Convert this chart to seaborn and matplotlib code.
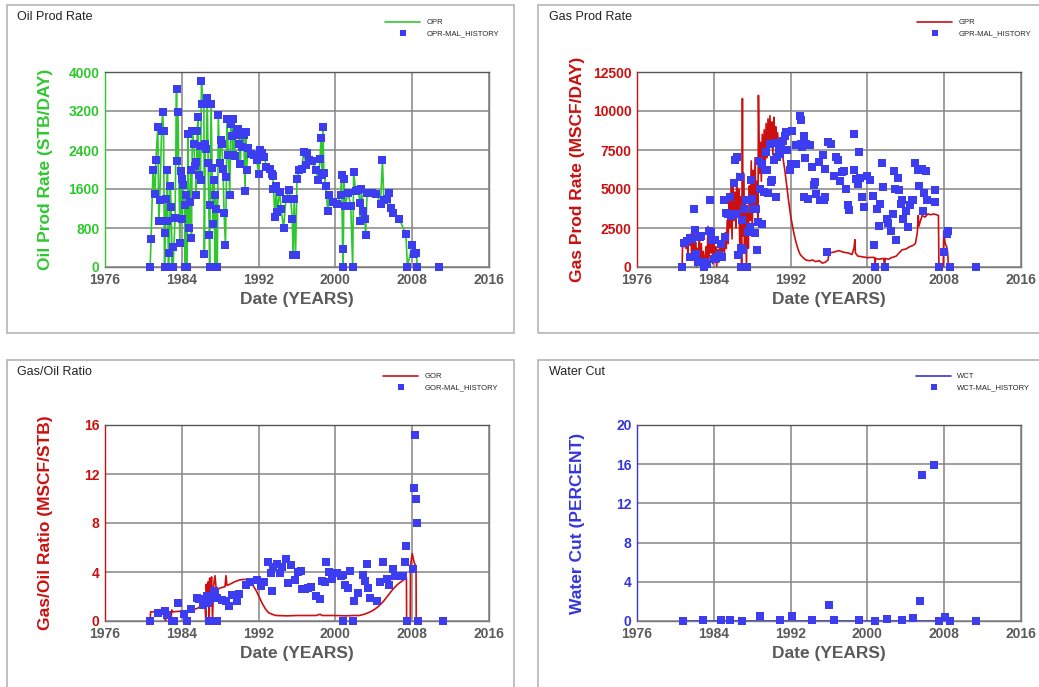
import matplotlib
matplotlib.use("Agg")
import matplotlib.pyplot as plt
from matplotlib.patches import Rectangle
from matplotlib.ticker import MultipleLocator
import seaborn as sns
import numpy as np

# ---------------- DATA ----------------
oil_year = [1980.7, 1980.8, 1981.0, 1981.2, 1981.3, 1981.5, 1981.6, 1981.7, 1981.9, 1982.0,
            1982.1, 1982.2, 1982.3, 1982.35, 1982.45, 1982.5, 1982.6, 1982.7, 1982.8, 1982.9,
            1983.0, 1983.05, 1983.1, 1983.3, 1983.45, 1983.5, 1983.6, 1983.8, 1983.9, 1984.0,
            1984.05, 1984.15, 1984.3, 1984.35, 1984.45, 1984.55, 1984.65, 1984.75, 1984.85, 1984.95,
            1985.0, 1985.1, 1985.25, 1985.35, 1985.45, 1985.5, 1985.6, 1985.7, 1985.75, 1985.85,
            1985.95, 1986.05, 1986.15, 1986.3, 1986.35, 1986.45, 1986.55, 1986.65, 1986.75, 1986.85,
            1986.9, 1986.95, 1987.05, 1987.15, 1987.25, 1987.35, 1987.45, 1987.5, 1987.6, 1987.7,
            1987.8, 1987.95, 1988.05, 1988.15, 1988.3, 1988.4, 1988.55, 1988.65, 1988.7, 1988.85,
            1989.0, 1989.1, 1989.15, 1989.25, 1989.3, 1989.35, 1989.5, 1989.6, 1989.75, 1989.9,
            1990.0, 1990.1, 1990.2, 1990.3, 1990.45, 1990.6, 1990.65, 1990.75, 1990.9, 1991.2,
            1991.5, 1991.8, 1992.0, 1992.1, 1992.35, 1992.6, 1992.8, 1993.15, 1993.35, 1993.5,
            1993.55, 1993.7, 1993.85, 1993.95, 1994.2, 1994.35, 1994.6, 1994.85, 1995.15, 1995.35,
            1995.5, 1995.6, 1995.7, 1995.85, 1996.0, 1996.2, 1996.5, 1996.7, 1996.95, 1997.05,
            1997.3, 1997.55, 1997.95, 1998.2, 1998.4, 1998.5, 1998.6, 1998.7, 1998.8, 1999.0,
            1999.2, 1999.35, 1999.8, 2000.2, 2000.55, 2000.65, 2000.75, 2000.8, 2000.9, 2001.0,
            2001.3, 2001.6, 2001.8, 2001.9, 2002.1, 2002.4, 2002.55, 2002.6, 2002.7, 2002.9,
            2003.05, 2003.15, 2003.3, 2003.8, 2004.25, 2004.7, 2004.9, 2005.05, 2005.35, 2005.6,
            2005.75, 2006.0, 2006.65, 2007.35, 2007.5, 2008.0, 2008.15, 2008.4, 2008.55, 2010.8]
oil_rate = [0, 580, 2000, 1490, 2190, 2870, 945, 1370, 2800, 3170,
            2800, 0, 700, 1400, 940, 1980, 0, 290, 1660, 1230,
            0, 410, 0, 1010, 3660, 2175, 3180, 500, 1960, 1810,
            980, 1680, 1265, 0, 1480, 0, 2720, 790, 1330, 2000,
            600, 2800, 2530, 2065, 2150, 1470, 2800, 3080, 1880, 2475,
            1780, 3820, 3350, 3340, 260, 2530, 2430, 3470, 2140, 660,
            0, 1280, 3340, 2040, 875, 1780, 0, 1470, 1180, 0,
            3110, 2140, 2600, 2520, 2020, 1115, 445, 1850, 3030, 2290,
            1470, 3030, 2940, 2690, 2300, 3030, 2280, 2715, 2790, 2840,
            2530, 2110, 2750, 2460, 2700, 1560, 2760, 2000, 2440, 2310,
            2290, 2200, 1915, 2395, 2330, 2260, 2050, 2020, 1915, 1870,
            1610, 1025, 1655, 1130, 1540, 1180, 800, 1390, 1575, 1400,
            990, 240, 1400, 240, 1800, 1985, 2020, 2350, 2090, 2345,
            2190, 2170, 2000, 1780, 2220, 2650, 1880, 2870, 1935, 1655,
            1140, 1470, 1330, 1285, 1485, 1880, 375, 0, 1810, 1260,
            1525, 1260, 0, 1950, 1560, 1585, 1310, 945, 1610, 1150,
            990, 660, 1520, 1520, 1505, 1300, 2190, 1380, 1390, 1520,
            1220, 1115, 990, 670, 0, 460, 275, 295, 0, 0]

gas_hist_year = [1980.73, 1980.90, 1981.21, 1981.49, 1981.49, 1981.73, 1981.84, 1981.94, 1982.08, 1982.18,
                 1982.36, 1982.53, 1982.71, 1982.88, 1982.98, 1983.12, 1983.30, 1983.47, 1983.57, 1983.68,
                 1983.85, 1984.03, 1984.10, 1984.27, 1984.51, 1984.72, 1984.90, 1985.03, 1985.17, 1985.31,
                 1985.49, 1985.66, 1985.83, 1986.11, 1986.18, 1986.35, 1986.46, 1986.53, 1986.70, 1986.81,
                 1986.88, 1986.98, 1987.05, 1987.15, 1987.29, 1987.40, 1987.50, 1987.57, 1987.67, 1987.74,
                 1987.92, 1987.99, 1988.09, 1988.27, 1988.37, 1988.51, 1988.61, 1988.72, 1988.86, 1989.00,
                 1989.06, 1989.20, 1989.31, 1989.48, 1989.55, 1989.69, 1989.83, 1990.00, 1990.11, 1990.25,
                 1990.35, 1990.52, 1990.59, 1990.80, 1990.87, 1991.05, 1991.22, 1991.39, 1991.57, 1991.67,
                 1991.91, 1992.02, 1992.19, 1992.37, 1992.54, 1992.61, 1992.82, 1992.96, 1993.06, 1993.13,
                 1993.23, 1993.37, 1993.41, 1993.48, 1993.65, 1993.82, 1994.00, 1994.24, 1994.42, 1994.59,
                 1994.69, 1994.97, 1995.11, 1995.39, 1995.46, 1995.56, 1995.63, 1995.74, 1995.91, 1996.26,
                 1996.50, 1996.71, 1996.95, 1997.13, 1997.37, 1997.54, 1997.75, 1997.93, 1998.10, 1998.62,
                 1998.62, 1998.79, 1998.97, 1999.11, 1999.21, 1999.45, 1999.66, 1999.97, 2000.25, 2000.60,
                 2000.70, 2000.81, 2001.02, 2001.19, 2001.36, 2001.54, 2001.64, 2001.85, 2001.99, 2002.16,
                 2002.48, 2002.62, 2002.79, 2002.86, 2003.03, 2003.21, 2003.31, 2003.45, 2003.62, 2003.73,
                 2004.01, 2004.21, 2004.42, 2004.60, 2004.77, 2004.98, 2005.29, 2005.40, 2005.64, 2005.74,
                 2005.92, 2006.06, 2006.23, 2007.03, 2007.06, 2007.48, 2007.97, 2008.24, 2008.42, 2008.59,
                 2011.27]
gas_hist_rate = [0, 1560, 1670, 1880, 640, 1820, 640, 3740, 2390, 855,
                 320, 1920, 1960, 320, 0, 320, 210, 2300, 4270, 2240,
                 1750, 530, 1710, 600, 750, 1500, 640, 4270, 1920, 3460,
                 3380, 4490, 3250, 5390, 6840, 3420, 7050, 750, 5770, 0,
                 1240, 3030, 1070, 3740, 0, 4320, 0, 2240, 4320, 2560,
                 5600, 4380, 3700, 2180, 3740, 1110, 2880, 6770, 5020, 2740,
                 6630, 4810, 6240, 7370, 6240, 4740, 7910, 5450, 5560, 6840,
                 7950, 4490, 7050, 7520, 7270, 7910, 8060, 8380, 8650, 7480,
                 6200, 6630, 8720, 6630, 6630, 7800, 7800, 9680, 9400, 7910,
                 7690, 4490, 8380, 7010, 7910, 4340, 7800, 6410, 5240, 5450,
                 4700, 6730, 4320, 7160, 4270, 6300, 4490, 960, 8010, 7910,
                 5810, 7050, 6840, 5490, 6090, 6150, 5020, 3950, 3630, 8550,
                 6200, 5660, 5300, 7370, 5730, 4490, 3850, 5810, 5560, 4530,
                 1430, 0, 3740, 2630, 4060, 6670, 5130, 0, 3100, 2820,
                 2290, 3420, 6150, 5020, 1710, 5730, 4920, 4060, 4270, 3100,
                 3590, 2560, 3950, 4270, 4270, 6670, 6240, 5170, 6300, 3590,
                 4740, 6130, 4320, 4960, 4170, 0, 960, 2140, 2300, 0,
                 0]

gas_sim_year = [1980.70, 1980.75, 1980.9, 1981.0, 1981.1, 1981.2, 1981.3, 1981.4, 1981.5, 1981.6,
                1981.7, 1981.8, 1981.9, 1982.0, 1982.05, 1982.1, 1982.2, 1982.3, 1982.4, 1982.5,
                1982.6, 1982.7, 1982.8, 1982.9, 1983.0, 1983.1, 1983.2, 1983.3, 1983.4, 1983.5,
                1983.6, 1983.7, 1983.8, 1983.9, 1984.0, 1984.1, 1984.2, 1984.3, 1984.4, 1984.5,
                1984.6, 1984.7, 1984.8, 1984.9, 1985.0, 1985.1, 1985.2, 1985.3, 1985.4, 1985.5,
                1985.6, 1985.7, 1985.8, 1985.9, 1986.0, 1986.1, 1986.2, 1986.3, 1986.4, 1986.5,
                1986.6, 1986.7, 1986.8, 1986.9, 1986.98, 1987.05, 1987.1, 1987.2, 1987.3, 1987.4,
                1987.5, 1987.6, 1987.7, 1987.8, 1987.9, 1988.0, 1988.1, 1988.2, 1988.3, 1988.4,
                1988.5, 1988.6, 1988.65, 1988.75, 1988.85, 1988.95, 1989.05, 1989.15, 1989.25, 1989.35,
                1989.45, 1989.55, 1989.65, 1989.75, 1989.85, 1989.95, 1990.05, 1990.15, 1990.25, 1990.35,
                1990.45, 1990.55, 1990.65, 1990.75, 1990.9, 1991.0, 1991.2, 1991.4, 1991.6, 1991.8,
                1992.0, 1992.2, 1992.4, 1992.6, 1992.8, 1993.0, 1993.3, 1993.6, 1994.0, 1994.3,
                1994.6, 1995.0, 1995.3, 1995.6, 1995.9, 1996.0, 1996.5, 1997.0, 1997.5, 1998.0,
                1998.4, 1998.6, 1998.7, 1998.75, 1999.0, 1999.5, 2000.0, 2000.5, 2000.75, 2000.8,
                2000.85, 2001.2, 2001.7, 2001.8, 2001.85, 2002.2, 2002.5, 2002.8, 2003.0, 2003.3,
                2003.6, 2004.0, 2004.4, 2004.8, 2005.0, 2005.2, 2005.3, 2005.35, 2005.5, 2005.7,
                2006.0, 2006.3, 2006.6, 2006.9, 2007.2, 2007.4, 2007.45, 2007.9, 2007.95, 2008.1,
                2008.25, 2008.35, 2008.45]
gas_sim_rate = [0, 1500, 1300, 1800, 1200, 1700, 900, 2000, 1400, 2100,
                600, 1900, 1000, 2200, 300, 1600, 0, 1200, 800, 1900,
                400, 1500, 200, 1000, 0, 700, 1300, 300, 2600, 500,
                2500, 900, 1800, 200, 1500, 600, 1300, 0, 1100, 300,
                1400, 900, 1700, 1000, 2000, 800, 2200, 1200, 3000, 1500,
                4200, 2500, 5200, 1800, 5500, 3000, 4800, 2500, 6000, 3200,
                5000, 1500, 4500, 0, 10800, 2000, 6000, 1000, 4200, 0,
                3500, 1200, 5200, 3000, 6800, 2000, 6200, 4000, 7000, 3500,
                5500, 2800, 11000, 6000, 8000, 5500, 8500, 6200, 8800, 6500,
                9200, 7000, 9500, 7500, 9700, 8000, 9300, 7200, 9600, 8200,
                9000, 7800, 8600, 7600, 8000, 7600, 7000, 6200, 5200, 4200,
                3300, 2600, 2000, 1500, 1100, 800, 600, 450, 400, 450,
                350, 400, 250, 300, 450, 900, 950, 1050, 950, 900,
                800, 1200, 1750, 900, 700, 650, 600, 620, 600, 0,
                550, 500, 550, 0, 550, 500, 600, 650, 700, 900,
                1100, 1150, 1300, 1400, 1500, 2200, 3300, 2600, 2900, 3300,
                3200, 3400, 3350, 3400, 3350, 3300, 0, 0, 2300, 1500,
                1300, 1000, 0]

gor_hist_year = [1980.69, 1981.56, 1982.25, 1982.42, 1982.94, 1983.22, 1983.64, 1984.26, 1984.58, 1984.96,
                 1985.55, 1985.83, 1986.24, 1986.42, 1986.59, 1986.76, 1986.87, 1986.94, 1987.11, 1987.22,
                 1987.35, 1987.46, 1987.63, 1987.70, 1988.15, 1988.60, 1988.95, 1989.26, 1989.78, 1989.96,
                 1990.69, 1991.10, 1991.87, 1992.25, 1992.60, 1993.01, 1993.26, 1993.36, 1993.47, 1993.88,
                 1994.23, 1994.40, 1994.86, 1995.10, 1995.34, 1995.79, 1996.14, 1996.42, 1996.49, 1996.83,
                 1997.18, 1997.42, 1997.94, 1998.40, 1998.57, 1998.92, 1999.02, 1999.33, 1999.61, 1999.89,
                 2000.20, 2000.55, 2000.76, 2000.83, 2001.00, 2001.35, 2001.52, 2001.80, 2001.97, 2002.39,
                 2002.84, 2003.08, 2003.26, 2003.43, 2003.60, 2004.30, 2004.65, 2004.92, 2005.41, 2005.62,
                 2005.97, 2006.21, 2007.08, 2007.25, 2007.35, 2007.49, 2008.12, 2008.22, 2008.29, 2008.40,
                 2008.47, 2008.57, 2011.17]
gor_hist_val = [0, 0.68, 0.84, 0.49, 0, 0, 1.44, 0.54, 0, 0.95,
                1.85, 1.80, 1.31, 1.71, 2.07, 1.44, 0, 1.80, 1.85, 0,
                2.45, 2.26, 0, 1.85, 1.71, 1.63, 1.22, 2.12, 1.66, 2.18,
                2.94, 3.16, 3.35, 2.88, 3.16, 4.79, 3.89, 2.45, 4.44, 4.68,
                3.89, 4.44, 5.03, 3.13, 4.57, 3.35, 3.97, 4.08, 2.61, 2.61,
                2.72, 2.80, 2.04, 1.77, 3.27, 3.21, 4.84, 4.03, 3.43, 3.95,
                3.89, 3.70, 0, 3.76, 2.94, 2.67, 4.11, 0, 1.66, 2.26,
                3.76, 3.29, 4.63, 2.67, 1.90, 1.66, 3.16, 4.79, 3.43, 2.94,
                4.22, 3.67, 3.67, 4.79, 6.12, 0, 4.22, 10.83, 15.18, 9.96,
                8.03, 0, 0]

gor_sim_year = [1980.7, 1980.75, 1981.5, 1982.2, 1982.3, 1982.35, 1982.8, 1982.9, 1982.95, 1983.0,
                1984.0, 1984.5, 1985.0, 1985.5, 1985.8, 1986.0, 1986.2, 1986.4, 1986.5, 1986.55,
                1986.65, 1986.75, 1986.85, 1986.9, 1987.0, 1987.1, 1987.2, 1987.3, 1987.45, 1987.6,
                1987.8, 1988.0, 1988.5, 1988.6, 1988.7, 1989.0, 1989.5, 1990.0, 1990.5, 1990.9,
                1991.2, 1991.5, 1991.8, 1992.1, 1992.4, 1992.7, 1993.0, 1993.4, 1993.8, 1995.0,
                1996.0, 1997.0, 1998.0, 1998.4, 1998.6, 1999.0, 2000.0, 2001.0, 2002.0, 2002.5,
                2003.0, 2003.5, 2004.0, 2004.5, 2005.0, 2005.5, 2006.0, 2006.5, 2007.0, 2007.4,
                2007.42, 2007.8, 2007.82, 2008.0, 2008.2, 2008.4, 2008.42]
gor_sim_val = [0, 0.75, 0.75, 0.75, 0.0, 0.75, 0.75, 0.3, 0.9, 0.75,
               0.8, 0.75, 0.9, 1.0, 1.1, 1.4, 1.2, 1.6, 0.0, 3.0,
               1.5, 3.2, 0.0, 3.5, 2.0, 3.6, 0.0, 2.8, 3.7, 2.5,
               2.6, 2.7, 2.8, 3.7, 2.9, 3.0, 3.2, 3.35, 3.4, 3.35,
               3.1, 2.8, 2.4, 1.9, 1.4, 1.0, 0.7, 0.55, 0.45, 0.42,
               0.45, 0.45, 0.45, 0.55, 0.45, 0.45, 0.45, 0.42, 0.45, 0.45,
               0.55, 0.7, 0.9, 1.2, 1.6, 2.1, 2.6, 3.0, 3.3, 3.5,
               0, 0, 4.5, 5.5, 4.8, 4.4, 0]

wct_hist_year = [1980.8, 1982.88, 1984.72, 1985.73, 1986.95, 1988.79, 1990.94, 1992.12, 1994.24, 1995.98,
                 1996.50, 1999.11, 2000.84, 2002.06, 2003.62, 2004.77, 2005.50, 2005.71, 2006.92, 2007.48,
                 2008.11, 2008.59, 2011.27]
wct_hist_val = [0, 0.1, 0.1, 0.1, 0, 0.5, 0.1, 0.5, 0.1, 1.6,
                0.1, 0.1, 0, 0.24, 0.1, 0.3, 2.0, 14.9, 15.9, 0,
                0.37, 0, 0]
wct_sim_year = [1980.7, 2008.6]
wct_sim_val = [0, 0]

year_ticks = [1976, 1984, 1992, 2000, 2008, 2016]

# ---------------- STYLE ----------------
sns.set_style("white")
plt.rcParams['font.family'] = ['Liberation Sans', 'DejaVu Sans']

W, H = 1039, 687
fig = plt.figure(figsize=(W / 100, H / 100), dpi=100)

GREEN = "#2ec82e"
RED = "#cc0f0f"
BLUE = "#3c3cf0"
DBLUE = "#3535e0"
TICKGRAY = "#5a5a5a"


def fx(px):
    return px / W


def fy(py):
    return 1 - py / H


# panel borders
for (x0, y0, x1, y1) in [(7, 5, 514, 333), (538, 5, 1045, 333),
                         (7, 360, 514, 692), (538, 360, 1045, 692)]:
    fig.add_artist(Rectangle((fx(x0), fy(y1)), fx(x1) - fx(x0), fy(y0) - fy(y1),
                             transform=fig.transFigure, fill=False,
                             edgecolor="#b4b4b4", lw=1.2))

panels = [
    dict(rect=(105, 72, 489, 267), title="Oil Prod Rate", tpos=(17, 17),
         ylabel="Oil Prod Rate (STB/DAY)", ycol=GREEN, lcol=GREEN,
         sx=oil_year[:-1], sy=oil_rate[:-1], hx=oil_year, hy=oil_rate,
         ymax=4000, ystep=800, leg=("OPR", "OPR-MAL_HISTORY"), lpos=(385, 19)),
    dict(rect=(637, 72, 1021, 267), title="Gas Prod Rate", tpos=(549, 17),
         ylabel="Gas Prod Rate (MSCF/DAY)", ycol=RED, lcol=RED,
         sx=gas_sim_year, sy=gas_sim_rate, hx=gas_hist_year, hy=gas_hist_rate,
         ymax=12500, ystep=2500, leg=("GPR", "GPR-MAL_HISTORY"), lpos=(917, 19)),
    dict(rect=(105, 425, 489, 621), title="Gas/Oil Ratio", tpos=(17, 372),
         ylabel="Gas/Oil Ratio (MSCF/STB)", ycol=RED, lcol=RED,
         sx=gor_sim_year, sy=gor_sim_val, hx=gor_hist_year, hy=gor_hist_val,
         ymax=16, ystep=4, leg=("GOR", "GOR-MAL_HISTORY"), lpos=(383, 373)),
    dict(rect=(637, 425, 1021, 621), title="Water Cut", tpos=(549, 372),
         ylabel="Water Cut (PERCENT)", ycol=DBLUE, lcol=DBLUE,
         sx=wct_sim_year, sy=wct_sim_val, hx=wct_hist_year, hy=wct_hist_val,
         ymax=20, ystep=4, leg=("WCT", "WCT-MAL_HISTORY"), lpos=(916, 373)),
]

for p in panels:
    x0, y0, x1, y1 = p["rect"]
    ax = fig.add_axes([fx(x0), fy(y1), fx(x1) - fx(x0), fy(y0) - fy(y1)])
    ax.set_facecolor("white")

    sns.lineplot(x=p["sx"], y=p["sy"], ax=ax, color=p["lcol"], lw=1.2,
                 sort=False, estimator=None, label=p["leg"][0], zorder=2)
    sns.scatterplot(x=p["hx"], y=p["hy"], ax=ax, marker="s", s=28, color=BLUE,
                    linewidth=0, label=p["leg"][1], clip_on=False, zorder=3)

    ax.set_xlim(1976, 2016)
    ax.set_ylim(0, p["ymax"])
    ax.set_xticks(year_ticks)
    ax.xaxis.set_minor_locator(MultipleLocator(4))
    ax.set_yticks(np.arange(0, p["ymax"] + 0.001, p["ystep"]))
    ax.yaxis.set_minor_locator(MultipleLocator(p["ystep"] / 2))
    ax.grid(True, which="major", color="#858585", lw=1.1, zorder=0)
    ax.set_axisbelow(True)
    ax.tick_params(which="major", length=0)
    ax.tick_params(axis="x", which="major", pad=4, labelsize=10, labelcolor=TICKGRAY)
    ax.tick_params(axis="y", which="major", pad=4, labelsize=10, labelcolor=p["ycol"])
    ax.tick_params(which="minor", direction="in", length=4, width=0.8, color="#777777")
    for lab in ax.get_xticklabels() + ax.get_yticklabels():
        lab.set_fontweight("bold")

    for side in ["top", "right", "bottom"]:
        ax.spines[side].set_color("#7a7a7a")
        ax.spines[side].set_linewidth(1.0)
    ax.spines["top"].set_color("#555555")
    ax.spines["left"].set_color(p["ycol"])
    ax.spines["left"].set_linewidth(1.0)

    ax.set_xlabel("Date (YEARS)", fontsize=12.5, fontweight="bold", color=TICKGRAY, labelpad=4)
    ax.set_ylabel(p["ylabel"], fontsize=12.5, fontweight="bold", color=p["ycol"])
    ax.yaxis.set_label_coords(-0.135, 0.5)

    # legend placed at top-right of panel
    handles, labels = ax.get_legend_handles_labels()
    ax.legend(handles, labels, loc="upper left",
              bbox_to_anchor=(fx(p["lpos"][0]), fy(p["lpos"][1])),
              bbox_transform=fig.transFigure, frameon=False, fontsize=5.5,
              handlelength=4.6, handletextpad=0.8, labelspacing=0.45,
              borderpad=0, borderaxespad=0, markerscale=0.9)

    fig.text(fx(p["tpos"][0]), fy(p["tpos"][1]), p["title"], fontsize=9,
             color="#222222", ha="left", va="center")

fig.savefig("out.png", dpi=100, facecolor="white")
